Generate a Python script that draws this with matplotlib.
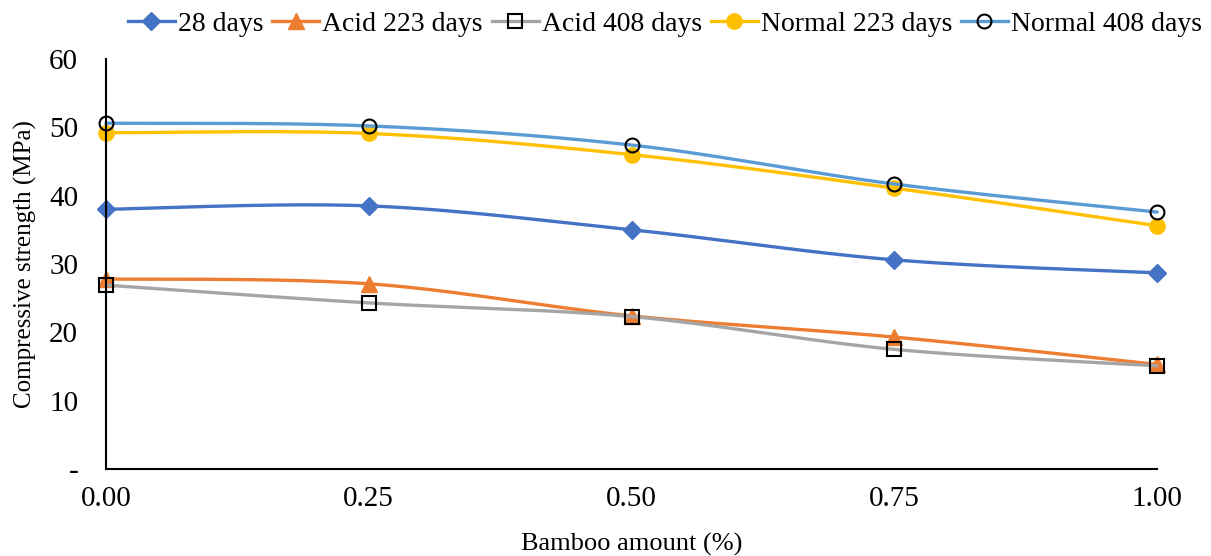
import numpy as np
import matplotlib
matplotlib.use("Agg")
import matplotlib.pyplot as plt
from matplotlib.lines import Line2D

plt.rcParams['font.family'] = ['Liberation Serif', 'DejaVu Serif']

bamboo = [0.00, 0.25, 0.50, 0.75, 1.00]
d28 = [38.0, 38.5, 35.0, 30.6, 28.7]
acid223 = [27.8, 27.1, 22.4, 19.3, 15.3]
acid408 = [26.9, 24.3, 22.3, 17.5, 15.1]
normal223 = [49.2, 49.1, 46.0, 41.1, 35.6]
normal408 = [50.6, 50.2, 47.4, 41.7, 37.6]

labels = ["28 days", "Acid 223 days", "Acid 408 days", "Normal 223 days", "Normal 408 days"]
xticklabels = ["0.00", "0.25", "0.50", "0.75", "1.00"]
yticklabels = ["-", "10", "20", "30", "40", "50", "60"]


def smooth(x, y, n=40):
    """Bezier smoothing through the points, like a spreadsheet smoothed line."""
    x = np.asarray(x, float)
    y = np.asarray(y, float)
    px = np.concatenate([[x[0]], x, [x[-1]]])
    py = np.concatenate([[y[0]], y, [y[-1]]])
    xs, ys = [], []
    t = np.linspace(0, 1, n)
    for i in range(1, len(px) - 2):
        p0 = np.array([px[i], py[i]])
        p3 = np.array([px[i + 1], py[i + 1]])
        p1 = p0 + (np.array([px[i + 1], py[i + 1]]) - np.array([px[i - 1], py[i - 1]])) / 6
        p2 = p3 - (np.array([px[i + 2], py[i + 2]]) - np.array([px[i], py[i]])) / 6
        b = ((1 - t) ** 3)[:, None] * p0 + (3 * (1 - t) ** 2 * t)[:, None] * p1 \
            + (3 * (1 - t) * t ** 2)[:, None] * p2 + (t ** 3)[:, None] * p3
        xs.append(b[:, 0])
        ys.append(b[:, 1])
    return np.concatenate(xs), np.concatenate(ys)


fig = plt.figure(figsize=(12.11, 5.56), dpi=100)
ax = fig.add_axes([0.0875, 0.1565, 0.868, 0.7375])

styles = [
    (d28, "#4472C4", dict(marker="D", markersize=9, markerfacecolor="#4472C4", markeredgecolor="#4472C4")),
    (acid223, "#ED7D31", dict(marker="^", markersize=11, markerfacecolor="#ED7D31", markeredgecolor="#ED7D31")),
    (acid408, "#A5A5A5", dict(marker="s", markersize=10, markerfacecolor="none", markeredgecolor="black", markeredgewidth=1.5)),
    (normal223, "#FFC000", dict(marker="o", markersize=11, markerfacecolor="#FFC000", markeredgecolor="#FFC000")),
    (normal408, "#5B9BD5", dict(marker="o", markersize=10, markerfacecolor="none", markeredgecolor="black", markeredgewidth=1.5)),
]

handles = []
for (vals, color, mk), lab in zip(styles, labels):
    sx, sy = smooth(bamboo, vals)
    ax.plot(sx, sy, color=color, lw=2.4, solid_capstyle="round", clip_on=False)
    ax.plot(bamboo, vals, linestyle="none", clip_on=False, **mk)
    handles.append(Line2D([], [], color=color, lw=2.4, **mk))

ax.set_xlim(0, 1)
ax.set_ylim(0, 60)
ax.set_xticks(bamboo)
ax.set_xticklabels(xticklabels)
ax.set_yticks(np.arange(0, 61, 10))
ax.set_yticklabels(yticklabels)
ax.tick_params(axis="both", length=0, labelsize=21, pad=12)
ax.tick_params(axis="y", pad=20)

for side in ("top", "right"):
    ax.spines[side].set_visible(False)
for side in ("left", "bottom"):
    ax.spines[side].set_linewidth(1.5)
    ax.spines[side].set_color("black")

ax.set_xlabel("Bamboo amount (%)", fontsize=19, labelpad=15)
ax.set_ylabel("Compressive strength (MPa)", fontsize=18, labelpad=9)

fig.legend(handles=handles, labels=labels, loc="upper center", bbox_to_anchor=(0.549, 1.024),
           ncol=5, frameon=False, fontsize=20, handlelength=1.7, handletextpad=0.1,
           columnspacing=0.32)

fig.savefig("out.png", dpi=100)
